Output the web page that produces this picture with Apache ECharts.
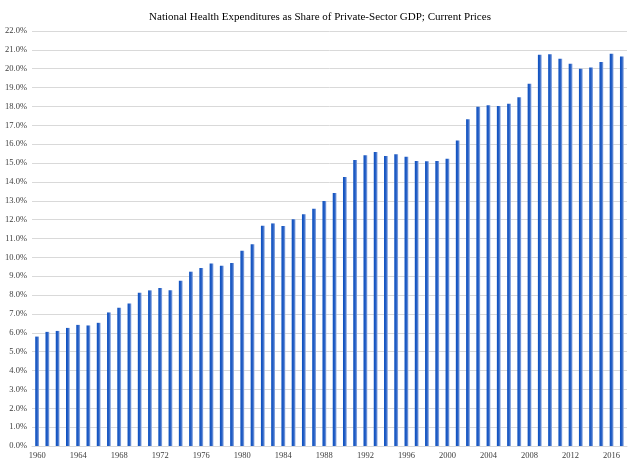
<!DOCTYPE html>
<html>
<head>
<meta charset="utf-8">
<script src="https://cdn.jsdelivr.net/npm/echarts@6/dist/echarts.min.js"></script>
<style>
  html, body { margin: 0; padding: 0; background: #fff; }
  #chart { width: 640px; height: 464px; }
</style>
</head>
<body>
<div id="chart"></div>
<script>
// years 1960..2017
var years = [];
for (var y = 1960; y <= 2017; y++) { years.push(String(y)); }

// share of private-sector GDP, percent
var shareValues = [
  5.8, 6.05, 6.1, 6.26, 6.42, 6.39, 6.53, 7.08, 7.33, 7.56,
  8.12, 8.25, 8.37, 8.26, 8.76, 9.24, 9.43, 9.68, 9.55, 9.70,
  10.35, 10.69, 11.68, 11.80, 11.66, 12.02, 12.28, 12.58, 12.99, 13.41,
  14.26, 15.16, 15.41, 15.59, 15.38, 15.47, 15.34, 15.11, 15.10, 15.11,
  15.23, 16.19, 17.32, 17.98, 18.07, 18.03, 18.15, 18.49, 19.20, 20.74,
  20.77, 20.53, 20.26, 20.00, 20.06, 20.36, 20.79, 20.65
];

var titleText = 'National Health Expenditures as Share of Private-Sector GDP; Current Prices';

var chart = echarts.init(document.getElementById('chart'));

var option = {
  animation: false,
  backgroundColor: '#fff',
  title: {
    text: titleText,
    left: 'center',
    top: 7,
    textStyle: { fontFamily: 'Liberation Serif', fontSize: 11, fontWeight: 'normal', color: '#000' }
  },
  grid: { left: 32, right: 13, top: 31, bottom: 18 },
  xAxis: {
    type: 'category',
    data: years,
    axisLine: { lineStyle: { color: '#d9d9d9' } },
    axisTick: { show: false },
    axisLabel: {
      interval: 3,
      fontFamily: 'Liberation Serif',
      fontSize: 8.5,
      color: '#404040',
      margin: 5
    }
  },
  yAxis: {
    type: 'value',
    min: 0,
    max: 22,
    interval: 1,
    axisLine: { show: false },
    axisTick: { show: false },
    splitLine: { lineStyle: { color: '#d9d9d9' } },
    axisLabel: {
      fontFamily: 'Liberation Serif',
      fontSize: 8.5,
      color: '#404040',
      margin: 5,
      formatter: function (v) { return v.toFixed(1) + '%'; }
    }
  },
  series: [{
    type: 'bar',
    data: shareValues,
    barWidth: 3.8,
    itemStyle: {
      color: new echarts.graphic.LinearGradient(0, 0, 1, 0, [
        { offset: 0, color: '#0a4fc0' },
        { offset: 0.55, color: '#2a62c6' },
        { offset: 1, color: '#9ab3e3' }
      ])
    }
  }]
};

chart.setOption(option);
window.addEventListener('resize', function () { chart.resize(); });
</script>
</body>
</html>
